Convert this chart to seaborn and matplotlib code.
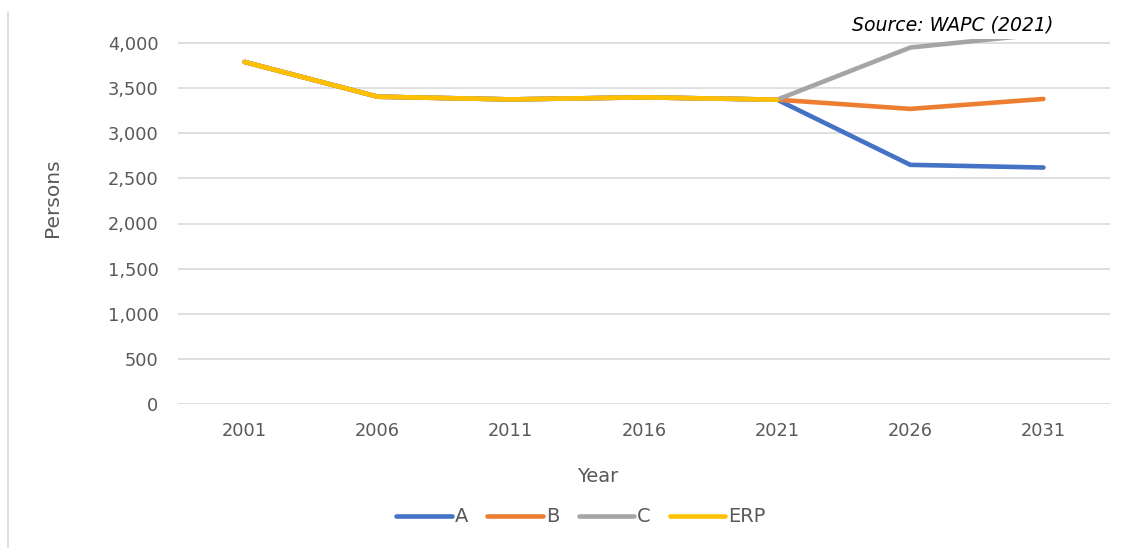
import numpy as np
import pandas as pd
import seaborn as sns
import matplotlib.pyplot as plt
from matplotlib.lines import Line2D

# chart values
years = ['2001', '2006', '2011', '2016', '2021', '2026', '2031']
series_a = [3790, 3405, 3375, 3398, 3372, 2650, 2620]
series_b = [3790, 3405, 3375, 3398, 3372, 3270, 3380]
series_c = [3790, 3405, 3375, 3398, 3372, 3950, 4100]
series_erp = [3790, 3405, 3375, 3398, 3372, np.nan, np.nan]
yticks = [0, 500, 1000, 1500, 2000, 2500, 3000, 3500, 4000]

names = ['A', 'B', 'C', 'ERP']
colours = ['#4472C4', '#ED7D31', '#A5A5A5', '#FFC000']

# long form table for seaborn
df = pd.DataFrame({
    'Year': years * 4,
    'Persons': series_a + series_b + series_c + series_erp,
    'Series': [n for n in names for _ in years],
})

sns.set_style('white')
plt.rcParams['font.family'] = ['DejaVu Sans']

W, H = 1134, 548
ytop = 4048
top_px = 404 - ytop * (361 / 4000)
fig = plt.figure(figsize=(W / 100, H / 100), dpi=100)
ax = fig.add_axes([178 / W, 1 - 404 / H, 932 / W, (404 - top_px) / H])

sns.lineplot(data=df, x='Year', y='Persons', hue='Series', hue_order=names,
             palette=colours, sort=False, linewidth=3.3, ax=ax, legend=False,
             solid_capstyle='round', solid_joinstyle='round')

ax.set_xlim(-0.5, len(years) - 0.5)
ax.set_ylim(0, ytop)
ax.set_yticks(yticks)
ax.set_yticklabels([f'{v:,}' for v in yticks])
ax.grid(axis='y', color='#d9d9d9', linewidth=1.2)
ax.set_axisbelow(True)
for s in ax.spines.values():
    s.set_visible(False)
ax.tick_params(axis='both', length=0, labelsize=12.8, colors='#595959')
ax.tick_params(axis='y', pad=14)
ax.tick_params(axis='x', pad=13)

ax.set_xlabel('Year', fontsize=14, color='#595959', ha='center', va='center')
ax.set_ylabel('Persons', fontsize=14.5, color='#595959', ha='center', va='center')
ax.xaxis.set_label_coords(598 / W, 1 - 477 / H, transform=fig.transFigure)
ax.yaxis.set_label_coords(52 / W, 1 - 198 / H, transform=fig.transFigure)

fig.text(953 / W, 1 - 25 / H, 'Source: WAPC (2021)', ha='center', va='center',
         fontsize=13.6, style='italic', color='black')

handles = [Line2D([0], [0], color=c, linewidth=3.3, solid_capstyle='round') for c in colours]
fig.legend(handles, names, loc='center', bbox_to_anchor=(581 / W, 1 - 517 / H), ncol=4,
           frameon=False, handlelength=2.85, handletextpad=0.15, columnspacing=1.0,
           prop={'size': 14}, labelcolor='#595959')

# thin border line at the left edge
fig.add_artist(Line2D([8 / W, 8 / W], [0, 1 - 12 / H], color='#d9d9d9',
                      linewidth=1.2, transform=fig.transFigure))

fig.savefig('out.png', dpi=100)
